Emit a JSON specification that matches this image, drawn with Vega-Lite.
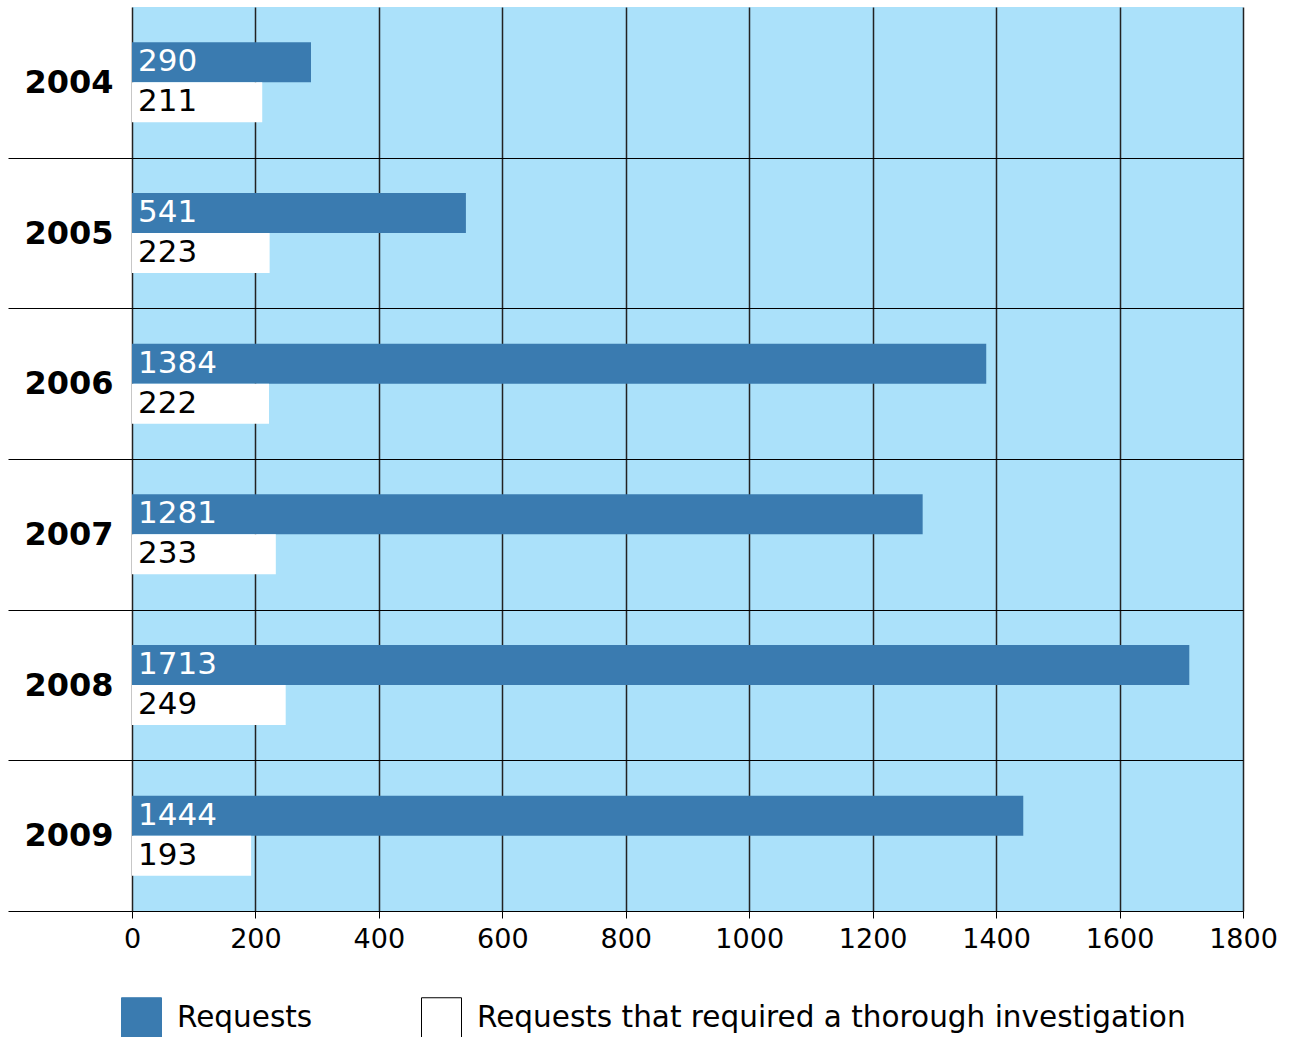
{
  "$schema": "https://vega.github.io/schema/vega-lite/v6.json",
  "width": 1111,
  "height": 904,
  "autosize": "none",
  "padding": {"left": 132, "top": 7, "right": 49, "bottom": 126},
  "background": "white",
  "config": {
    "view": {"fill": "#abe1fa", "stroke": null},
    "font": "DejaVu Sans"
  },
  "data": {
    "values": [
      {"year": "2004", "series": "Requests", "value": 290},
      {"year": "2004", "series": "Requests that required a thorough investigation", "value": 211},
      {"year": "2005", "series": "Requests", "value": 541},
      {"year": "2005", "series": "Requests that required a thorough investigation", "value": 223},
      {"year": "2006", "series": "Requests", "value": 1384},
      {"year": "2006", "series": "Requests that required a thorough investigation", "value": 222},
      {"year": "2007", "series": "Requests", "value": 1281},
      {"year": "2007", "series": "Requests that required a thorough investigation", "value": 233},
      {"year": "2008", "series": "Requests", "value": 1713},
      {"year": "2008", "series": "Requests that required a thorough investigation", "value": 249},
      {"year": "2009", "series": "Requests", "value": 1444},
      {"year": "2009", "series": "Requests that required a thorough investigation", "value": 193}
    ]
  },
  "encoding": {
    "y": {
      "field": "year",
      "type": "nominal",
      "scale": {"paddingInner": 0, "paddingOuter": 0},
      "axis": {
        "title": null,
        "domain": false,
        "ticks": true,
        "tickBand": "extent",
        "tickSize": 124,
        "tickWidth": 1,
        "tickColor": {"condition": {"test": "!datum.value", "value": "transparent"}, "value": "black"},
        "grid": true,
        "gridWidth": 1,
        "gridColor": {"condition": {"test": "!datum.value", "value": "transparent"}, "value": "black"},
        "labelFontSize": 32,
        "labelFontWeight": "bold",
        "labelColor": "black",
        "labelFont": "DejaVu Sans",
        "labelPadding": -105
      }
    },
    "yOffset": {
      "field": "series",
      "type": "nominal",
      "sort": ["Requests", "Requests that required a thorough investigation"],
      "scale": {"paddingInner": 0, "paddingOuter": 0.8833}
    },
    "x": {
      "field": "value",
      "type": "quantitative",
      "scale": {"domain": [0, 1800], "nice": false},
      "axis": {
        "title": null,
        "values": [0, 200, 400, 600, 800, 1000, 1200, 1400, 1600, 1800],
        "format": "d",
        "grid": true,
        "gridColor": "#222222",
        "gridWidth": 1.5,
        "gridOpacity": 1,
        "domain": true,
        "domainColor": "black",
        "domainWidth": 1,
        "tickSize": 7,
        "tickColor": "black",
        "tickWidth": 1,
        "labelFontSize": 27,
        "labelColor": "black",
        "labelFont": "DejaVu Sans",
        "labelPadding": 8,
        "labelFlush": false
      }
    }
  },
  "layer": [
    {
      "mark": {"type": "bar"},
      "encoding": {
        "color": {
          "field": "series",
          "type": "nominal",
          "scale": {
            "domain": ["Requests", "Requests that required a thorough investigation"],
            "range": ["#3a7bb0", "#ffffff"]
          },
          "legend": {
            "title": null,
            "orient": "none",
            "legendX": -11,
            "legendY": 990,
            "direction": "horizontal",
            "symbolType": "square",
            "symbolSize": 1600,
            "symbolOpacity": 1,
            "symbolStrokeWidth": 1,
            "labelFontSize": 29.5,
            "labelColor": "black",
            "labelFont": "DejaVu Sans",
            "labelOffset": 15,
            "columnPadding": 106,
            "labelLimit": 0,
            "encode": {
              "symbols": {
                "update": {
                  "stroke": {"signal": "datum.value === 'Requests' ? '#3a7bb0' : 'black'"}
                }
              }
            }
          }
        }
      }
    },
    {
      "mark": {"type": "text", "align": "left", "baseline": "middle", "dx": 6, "fontSize": 31, "font": "DejaVu Sans"},
      "encoding": {
        "x": {"datum": 0},
        "text": {"field": "value", "type": "quantitative"},
        "color": {
          "condition": {"test": "datum.series === 'Requests'", "value": "white"},
          "value": "black"
        }
      }
    }
  ]
}
